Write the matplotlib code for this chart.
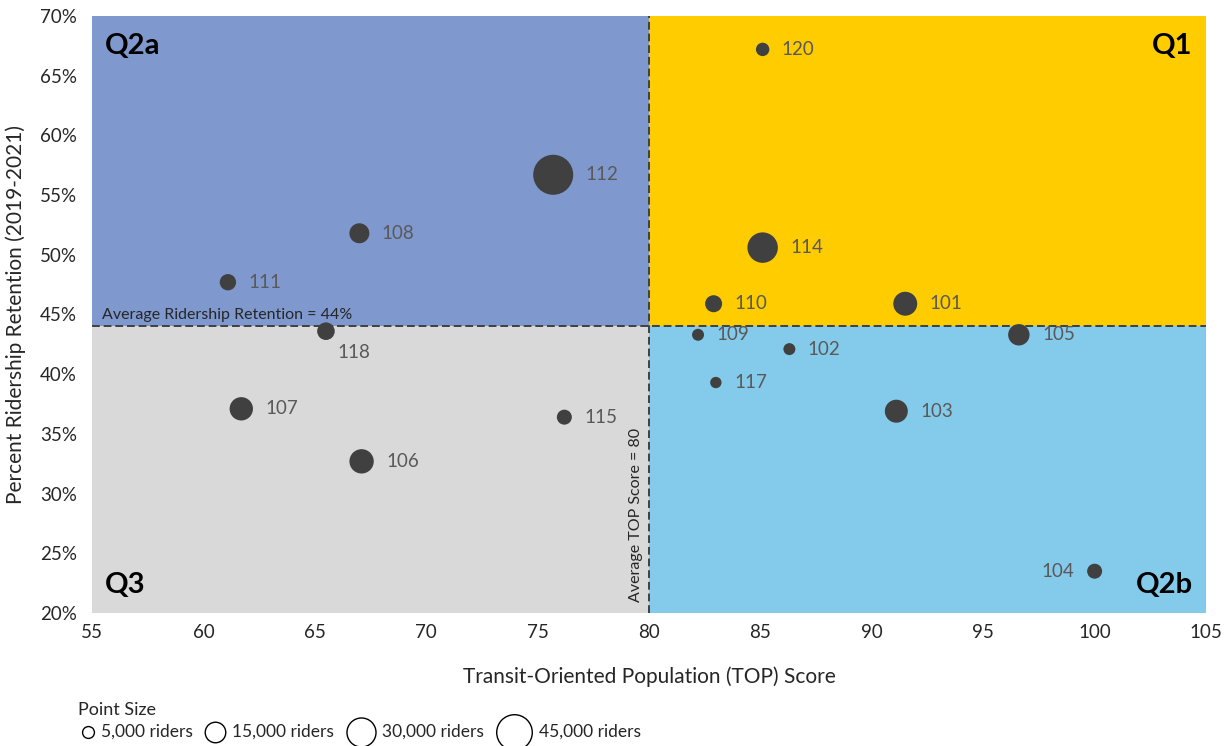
import matplotlib.pyplot as plt

plt.rcParams['font.family'] = ['Lato', 'DejaVu Sans']

# station data
stations = ['120', '112', '108', '111', '114', '110', '101', '118', '109',
            '102', '105', '117', '107', '115', '103', '106', '104']
top_score = [85.1, 75.7, 67.0, 61.1, 85.1, 82.9, 91.5, 65.5, 82.2,
             86.3, 96.6, 83.0, 61.7, 76.2, 91.1, 67.1, 100.0]
retention = [67.2, 56.7, 51.8, 47.7, 50.6, 45.9, 45.9, 43.6, 43.3,
             42.1, 43.3, 39.3, 37.1, 36.4, 36.9, 32.7, 23.5]
riders = [6400, 57000, 14200, 9500, 33000, 10300, 20400, 11000, 5100,
          5100, 16300, 4600, 19400, 8000, 18800, 21100, 8000]
label_side = ['right'] * 17
label_side[stations.index('118')] = 'below'
label_side[stations.index('104')] = 'left'

legend_riders = [5000, 15000, 30000, 45000]
legend_labels = ['5,000 riders', '15,000 riders', '30,000 riders', '45,000 riders']

avg_top = 80
avg_ret = 44

# marker area in pt^2 per rider
scale = 2.07 * 17.8 ** 2 / 45000

W, H = 1230, 746
fig = plt.figure(figsize=(W / 100, H / 100), dpi=100)
ax = fig.add_axes([0.0748, 0.1783, 0.9057, 0.8003])

xmin, xmax, ymin, ymax = 55, 105, 20, 70
split = (avg_ret - ymin) / (ymax - ymin)
ax.axvspan(xmin, avg_top, ymin=split, ymax=1, color='#7F99CF', lw=0)
ax.axvspan(avg_top, xmax, ymin=split, ymax=1, color='#FFCC00', lw=0)
ax.axvspan(xmin, avg_top, ymin=0, ymax=split, color='#D9D9D9', lw=0)
ax.axvspan(avg_top, xmax, ymin=0, ymax=split, color='#84CBEB', lw=0)

ax.axhline(avg_ret, color='#404040', ls=(0, (4, 2)), lw=1.4, zorder=2)
ax.axvline(avg_top, color='#404040', ls=(0, (4, 2)), lw=1.4, zorder=2)

sizes = [r * scale for r in riders]
ax.scatter(top_score, retention, s=sizes, color='#404040', lw=0, zorder=3)

for name, x, y, s, side in zip(stations, top_score, retention, sizes, label_side):
    rad = s ** 0.5 / 2
    if side == 'right':
        off, ha, va = (rad + 9, 0), 'left', 'center'
    elif side == 'left':
        off, ha, va = (-rad - 9, 0), 'right', 'center'
    else:
        off, ha, va = (rad + 14, -rad - 3), 'center', 'top'
    ax.annotate(name, (x, y), xytext=off, textcoords='offset points',
                ha=ha, va=va, fontsize=13.5, color='#595959', zorder=4)

qkw = dict(fontsize=21, fontweight='bold', color='black', transform=ax.transAxes)
ax.text(0.012, 0.972, 'Q2a', ha='left', va='top', **qkw)
ax.text(0.988, 0.972, 'Q1', ha='right', va='top', **qkw)
ax.text(0.012, 0.025, 'Q3', ha='left', va='bottom', **qkw)
ax.text(0.988, 0.025, 'Q2b', ha='right', va='bottom', **qkw)

ax.text(xmin + 0.45, avg_ret + 0.35, 'Average Ridership Retention = 44%',
        ha='left', va='bottom', fontsize=11.5, color='#262626')
ax.text(avg_top - 0.25, ymin + 0.9, 'Average TOP Score = 80', rotation=90,
        ha='right', va='bottom', fontsize=11.5, color='#262626')

ax.set_xlim(xmin, xmax)
ax.set_ylim(ymin, ymax)
ax.set_xticks(range(55, 106, 5))
ax.set_yticks(range(20, 71, 5))
ax.set_yticklabels([f'{v}%' for v in range(20, 71, 5)])
ax.tick_params(length=0, labelsize=13.5, colors='#262626')
ax.tick_params(axis='y', pad=11)
ax.tick_params(axis='x', pad=8)
for sp in ax.spines.values():
    sp.set_visible(False)
ax.set_xlabel('Transit-Oriented Population (TOP) Score', fontsize=15, color='#262626', labelpad=18)
ax.set_ylabel('Percent Ridership Retention (2019-2021)', fontsize=15, color='#262626', labelpad=10)

# point size key below the chart, laid out left to right in pixels
fig.text(78 / W, 1 - 710 / H, 'Point Size', fontsize=13, color='#262626', ha='left', va='center')
renderer = fig.canvas.get_renderer()
cur = 82
row_y = 1 - 732 / H
for r, lab in zip(legend_riders, legend_labels):
    rad_px = (r * scale) ** 0.5 / 2 / 0.72
    cx = cur + rad_px
    fig.lines.append(plt.Line2D([cx / W], [row_y], transform=fig.transFigure, marker='o', ls='',
                                markersize=(r * scale) ** 0.5, markerfacecolor='white',
                                markeredgecolor='black', markeredgewidth=1))
    t = fig.text((cx + rad_px + 7) / W, row_y, lab, fontsize=12.5, color='#262626',
                 ha='left', va='center')
    cur = t.get_window_extent(renderer).x1 + 12

fig.savefig('out.png', dpi=100)
